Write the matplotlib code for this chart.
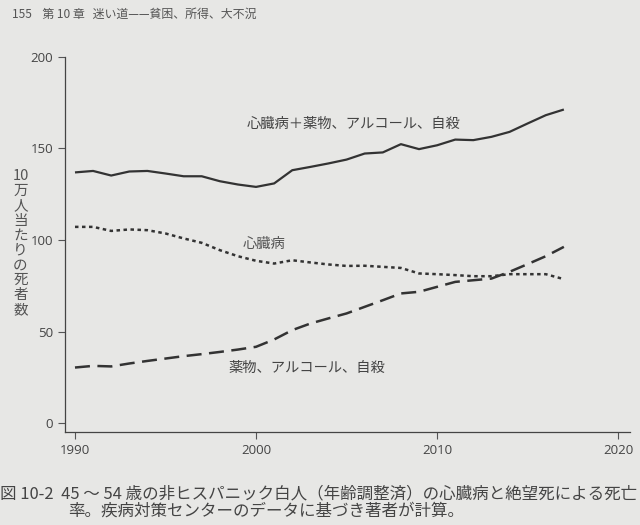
import matplotlib.pyplot as plt

plt.rcParams['font.family'] = ['Noto Sans CJK JP', 'DejaVu Sans']

# データ（10万人当たりの死者数、45～54歳の非ヒスパニック白人）
years = list(range(1990, 2018))
total = [136.9, 137.7, 135.2, 137.4, 137.7, 136.3, 134.8, 134.8, 132.1, 130.3,
         129.0, 130.9, 138.1, 139.9, 141.8, 143.9, 147.2, 147.8, 152.3, 149.6,
         151.7, 154.8, 154.5, 156.3, 159.0, 163.6, 168.1, 171.2]
heart = [107.2, 107.2, 105.0, 105.8, 105.4, 103.6, 100.9, 98.5, 94.5, 91.2,
         88.7, 87.2, 89.0, 87.8, 86.7, 85.9, 86.0, 85.4, 84.8, 81.8,
         81.4, 80.9, 80.3, 80.3, 81.4, 81.4, 81.4, 78.7]
despair = [30.5, 31.4, 31.1, 32.7, 34.1, 35.4, 36.7, 37.8, 39.0, 40.3,
           41.8, 45.8, 50.9, 54.5, 57.3, 60.0, 63.6, 67.2, 70.9, 71.8,
           74.5, 77.2, 78.1, 79.0, 82.7, 86.9, 91.2, 96.3]

xticks = [1990, 2000, 2010, 2020]
yticks = [0, 50, 100, 150, 200]

paper = '#e7e7e5'
ink = '#333333'

fig = plt.figure(figsize=(6.4, 5.25), dpi=100, facecolor=paper)
ax = fig.add_axes([0.1016, 0.177, 0.883, 0.715])
ax.set_facecolor(paper)

ax.plot(years, total, color=ink, lw=1.6, solid_capstyle='butt')
ax.plot(years, heart, color=ink, lw=1.8, linestyle=(0, (1.4, 1.4)))
ax.plot(years, despair, color=ink, lw=1.8, linestyle=(0, (6, 3)))

ax.text(1999.5, 163.2, '心臓病＋薬物、アルコール、自殺', fontsize=10.3, color='#444444', va='center')
ax.text(1999.25, 97.8, '心臓病', fontsize=10.3, color='#555555', va='center')
ax.text(1998.45, 30.2, '薬物、アルコール、自殺', fontsize=10.3, color='#444444', va='center')

ax.set_xlim(1989.45, 2020.66)
ax.set_ylim(-4.7, 200)
ax.set_xticks(xticks)
ax.set_yticks(yticks)
ax.tick_params(direction='out', length=5, width=0.8, color='#555555',
               labelsize=9.5, labelcolor='#444444')
for lab in ax.get_xticklabels() + ax.get_yticklabels():
    lab.set_family(['Open Sans', 'DejaVu Sans'])
for s in ['top', 'right']:
    ax.spines[s].set_visible(False)
for s in ['left', 'bottom']:
    ax.spines[s].set_color('#444444')
    ax.spines[s].set_linewidth(0.9)

# 縦書きの軸ラベル
ylab = '\n'.join(['10', '万', '人', '当', 'た', 'り', 'の', '死', '者', '数'])
fig.text(0.032, 0.537, ylab, fontsize=10.5, color='#555555', ha='center', va='center',
         linespacing=1.08)

# ページ見出しとキャプション
fig.text(0.018, 0.972, '155    第 10 章   迷い道——貧困、所得、大不況', fontsize=8.6,
         color='#555555', va='center')
fig.text(0.0, 0.060, '図 10-2  45 ～ 54 歳の非ヒスパニック白人（年齢調整済）の心臓病と絶望死による死亡',
         fontsize=11.9, color='#444444', va='center')
fig.text(0.106, 0.027, '率。疾病対策センターのデータに基づき著者が計算。',
         fontsize=11.9, color='#444444', va='center')

fig.savefig('out.png', dpi=100, facecolor=paper)
